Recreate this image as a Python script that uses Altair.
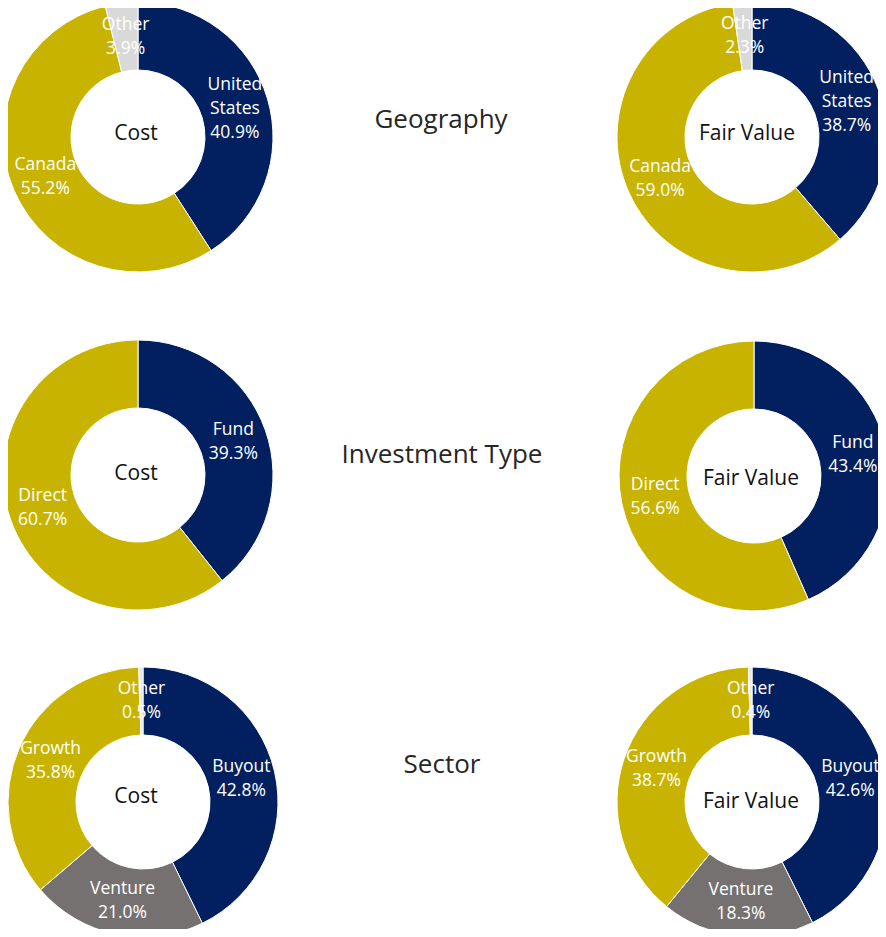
import altair as alt
import pandas as pd

# ---- data ----
group_titles = ["Geography", "Investment Type", "Sector"]
panel_titles = ["Cost", "Fair Value"]

geo_categories = ["United States", "Canada", "Other"]
geo_label_names = ["United\nStates", "Canada", "Other"]
geo_cost = [40.9, 55.2, 3.9]
geo_fair = [38.7, 59.0, 2.3]
geo_colors = ["#022060", "#C8B400", "#D9D9D9"]

inv_categories = ["Fund", "Direct"]
inv_label_names = ["Fund", "Direct"]
inv_cost = [39.3, 60.7]
inv_fair = [43.4, 56.6]
inv_colors = ["#022060", "#C8B400"]

sec_categories = ["Buyout", "Venture", "Growth", "Other"]
sec_label_names = ["Buyout", "Venture", "Growth", "Other"]
sec_cost = [42.8, 21.0, 35.8, 0.5]
sec_fair = [42.6, 18.3, 38.7, 0.4]
sec_colors = ["#022060", "#767171", "#C8B400", "#E7E6E6"]

# ---- layout (view coordinates) ----
donut_centers = [
    [(130, 129), (744, 129)],
    [(130, 467), (746, 468)],
    [(135, 794), (744, 794)],
]
center_text_pos = [
    [(128, 132), (739, 132)],
    [(128, 472), (743, 477)],
    [(128, 795), (743, 800)],
]
title_pos = [(433, 120), (434, 455), (434, 765)]

OUTER = 135
INNER = 67
LABEL_R = 101
LINE_H = 24
FONT = "Open Sans"

groups = [
    (geo_categories, geo_label_names, [geo_cost, geo_fair], geo_colors),
    (inv_categories, inv_label_names, [inv_cost, inv_fair], inv_colors),
    (sec_categories, sec_label_names, [sec_cost, sec_fair], sec_colors),
]

layers = []
for gi, (cats, names, series, colors) in enumerate(groups):
    for pi, vals in enumerate(series):
        cx, cy = donut_centers[gi][pi]
        labels = [f"{n}\n{v:.1f}%" for n, v in zip(names, vals)]
        df = pd.DataFrame({
            "category": cats,
            "value": vals,
            "order": list(range(len(cats))),
            "color": colors,
            "label": labels,
            "nlines": [lab.count("\n") + 1 for lab in labels],
        })
        base = alt.Chart(df).encode(
            theta=alt.Theta("value:Q", stack="normalize"),
            order=alt.Order("order:Q"),
            x=alt.value(cx),
            y=alt.value(cy),
        )
        arc = base.mark_arc(
            innerRadius=INNER, outerRadius=OUTER, stroke="white", strokeWidth=1
        ).encode(color=alt.Color("color:N", scale=None))
        layers.append(arc)
        for n in sorted(set(df["nlines"])):
            txt = base.mark_text(
                radius=LABEL_R, lineBreak="\n", font=FONT, fontSize=17.5,
                color="white", align="center", baseline="middle",
                lineHeight=LINE_H, dy=-(n - 1) * LINE_H / 2,
            ).encode(
                text="label:N",
                opacity=alt.condition(f"datum.nlines == {n}", alt.value(1), alt.value(0)),
            )
            layers.append(txt)

        tx, ty = center_text_pos[gi][pi]
        cdf = pd.DataFrame({"t": [panel_titles[pi]]})
        layers.append(
            alt.Chart(cdf).mark_text(
                font=FONT, fontSize=21, color="#111111", align="center",
                baseline="alphabetic",
            ).encode(text="t:N", x=alt.value(tx), y=alt.value(ty))
        )

    gx, gy = title_pos[gi]
    tdf = pd.DataFrame({"t": [group_titles[gi]]})
    layers.append(
        alt.Chart(tdf).mark_text(
            font=FONT, fontSize=26, color="#262626", align="center",
            baseline="alphabetic",
        ).encode(text="t:N", x=alt.value(gx), y=alt.value(gy))
    )

chart = alt.layer(*layers).properties(
    width=870, height=921, padding=0, autosize=alt.AutoSizeParams(type="none"),
    background="white",
).configure_view(strokeWidth=0, strokeOpacity=0, fill="white")

chart.save("out.html", embed_options={"renderer": "svg", "actions": False})
